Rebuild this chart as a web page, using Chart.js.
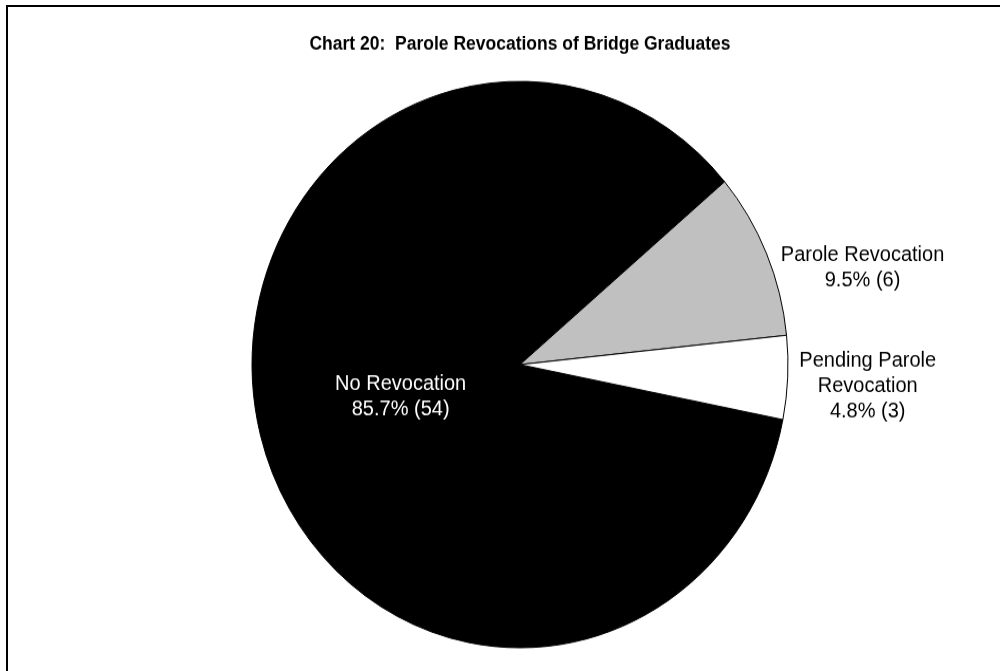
<!DOCTYPE html>
<html>
<head>
<meta charset="utf-8">
<script src="https://cdn.jsdelivr.net/npm/chart.js@4.4.0/dist/chart.umd.min.js"></script>
<style>
  html, body { margin: 0; padding: 0; background: #fff; }
  #wrap { position: relative; width: 1000px; height: 671px; overflow: hidden; }
  #frame { position: absolute; left: 6px; top: 5px; right: -10px; bottom: -10px;
           border-top: 2px solid #000; border-left: 2px solid #000; }
  /* pie is drawn a little taller than wide */
  #chart { position: absolute; left: 0; top: 0; transform-origin: 0 0; transform: scaleY(1.0567); }
</style>
</head>
<body>
<div id="wrap">
  <canvas id="chart" width="1000" height="635" style="width:1000px;height:635px"></canvas>
  <div id="frame"></div>
</div>
<script>
const categories = ['No Revocation', 'Parole Revocation', 'Pending Parole Revocation'];
const counts = [54, 6, 3];
const sliceColors = ['#000000', '#c0c0c0', '#ffffff'];
const labelLines = [['No Revocation'], ['Parole Revocation'], ['Pending Parole', 'Revocation']];
const labelColors = ['#ffffff', '#000000', '#000000'];

// where each label sits: fraction of the radius along the slice middle, then a nudge
const labelPlace = [
  { r: 0.46, dx: 0, dy: 0 },
  { r: 1, dx: 96, dy: 14 },
  { r: 1, dx: 80, dy: 8 }
];

const FONT = '"Liberation Sans", Arial, sans-serif';

const sliceLabels = {
  id: 'sliceLabels',
  afterDatasetsDraw(chart) {
    const ctx = chart.ctx;
    const meta = chart.getDatasetMeta(0);
    const total = counts.reduce((a, b) => a + b, 0);
    ctx.save();
    ctx.font = '20px ' + FONT;
    ctx.textAlign = 'center';
    ctx.textBaseline = 'middle';
    meta.data.forEach((arc, i) => {
      const p = arc.getProps(['x', 'y', 'startAngle', 'endAngle', 'outerRadius'], true);
      const mid = (p.startAngle + p.endAngle) / 2;
      const pct = (counts[i] / total * 100).toFixed(1) + '% (' + counts[i] + ')';
      const lines = labelLines[i].concat(pct);
      const pl = labelPlace[i];
      const cx = p.x + Math.cos(mid) * p.outerRadius * pl.r + pl.dx;
      const cy = p.y + Math.sin(mid) * p.outerRadius * pl.r + pl.dy;
      ctx.fillStyle = labelColors[i];
      lines.forEach((t, k) => {
        ctx.fillText(t, cx, cy + (k - (lines.length - 1) / 2) * 24);
      });
    });
    ctx.restore();
  }
};

new Chart(document.getElementById('chart').getContext('2d'), {
  type: 'pie',
  data: {
    labels: categories,
    datasets: [{
      data: counts,
      backgroundColor: sliceColors,
      borderColor: '#000000',
      borderWidth: 1
    }]
  },
  options: {
    responsive: false,
    animation: false,
    devicePixelRatio: 1,
    rotation: 101.2,
    layout: { padding: { left: 40, right: 0, top: 0, bottom: 21.5 } },
    plugins: {
      legend: { display: false },
      tooltip: { enabled: false },
      title: {
        display: true,
        text: 'Chart 20:  Parole Revocations of Bridge Graduates',
        color: '#000000',
        font: { family: FONT, size: 17.5, weight: 'bold', lineHeight: 1.2 },
        padding: { top: 32.1, bottom: 23.4 }
      }
    }
  },
  plugins: [sliceLabels]
});
</script>
</body>
</html>
